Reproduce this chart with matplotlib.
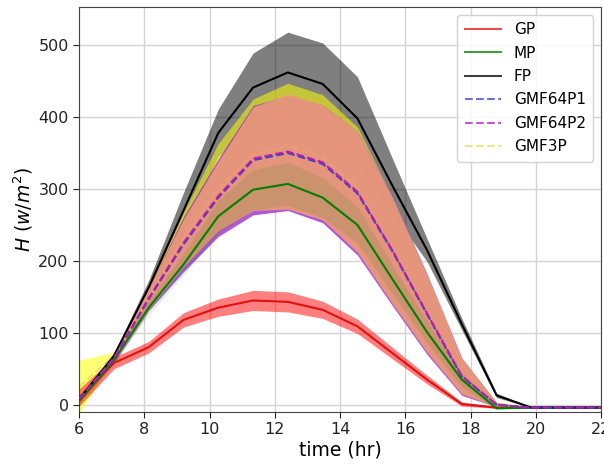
import numpy as np
import matplotlib
matplotlib.use("Agg")
import matplotlib.pyplot as plt

# time grid (hr)
t = np.linspace(6, 22, 16)

GP_mean = [10, 58, 80, 118, 135, 145, 143, 132, 109, 72, 35, 1, -4, -4, -4, -4]
GP_std = [12, 8, 8, 10, 12, 14, 14, 12, 10, 8, 6, 3, 1, 0, 0, 0]

MP_mean = [5, 62, 135, 195, 262, 299, 307, 288, 250, 175, 101, 35, -5, -4, -4, -4]
MP_std = [5, 5, 10, 15, 22, 28, 30, 28, 25, 20, 15, 10, 2, 0, 0, 0]

FP_mean = [8, 68, 163, 270, 378, 441, 462, 446, 398, 305, 215, 112, 13, -4, -4, -4]
FP_std = [2, 3, 10, 25, 33, 48, 56, 57, 58, 38, 16, 8, 3, 0, 0, 0]

GMF64P1_mean = [8, 64, 147, 223, 288, 340, 350, 335, 294, 214, 126, 39, 0, -4, -4, -4]
GMF64P1_std = [4, 6, 16, 38, 54, 76, 80, 82, 86, 76, 56, 26, 3, 0, 0, 0]

GMF64P2_mean = [8, 65, 148, 225, 290, 342, 352, 337, 296, 215, 127, 40, 0, -4, -4, -4]
GMF64P2_std = [3, 5, 15, 33, 48, 72, 80, 80, 84, 74, 54, 25, 3, 0, 0, 0]

GMF3P_mean = [25, 68, 150, 232, 300, 348, 360, 345, 302, 217, 128, 40, 1, -4, -4, -4]
GMF3P_std = [37, 5, 12, 36, 63, 77, 87, 86, 84, 72, 52, 24, 3, 0, 0, 0]

def arr(a):
    return np.asarray(a, dtype=float)

fig = plt.figure(figsize=(6.04, 4.66), dpi=100)
ax = fig.add_axes([0.131, 0.116, 0.864, 0.869])

m, s = arr(FP_mean), arr(FP_std)
ax.fill_between(t, m - s, m + s, color="black", alpha=0.5, lw=0, zorder=1.1)
m, s = arr(GMF3P_mean), arr(GMF3P_std)
ax.fill_between(t, m - s, m + s, color="yellow", alpha=0.55, lw=0, zorder=1.2)
m, s = arr(GMF64P1_mean), arr(GMF64P1_std)
ax.fill_between(t, m - s, m + s, color="#9a30d0", alpha=0.8, lw=0, zorder=1.3)
m, s = arr(GMF64P2_mean), arr(GMF64P2_std)
ax.fill_between(t, m - s, m + s, color="#eb9a78", alpha=0.93, lw=0, zorder=1.5)
m, s = arr(MP_mean), arr(MP_std)
ax.fill_between(t, m - s, m + s, color="green", alpha=0.12, lw=0, zorder=1.6)
m, s = arr(GP_mean), arr(GP_std)
ax.fill_between(t, m - s, m + s, color="red", alpha=0.5, lw=0, zorder=1.7)

ax.plot(t, GP_mean, color="#dd1111", lw=1.5, label="GP", zorder=3)
ax.plot(t, MP_mean, color="green", lw=1.5, label="MP", zorder=3)
ax.plot(t, FP_mean, color="black", lw=1.5, label="FP", zorder=3)
ax.plot(t, GMF64P1_mean, color="#4040c0", lw=1.5, ls="--", label="GMF64P1", zorder=3)
ax.plot(t, GMF64P2_mean, color="#b020b0", lw=1.5, ls="--", label="GMF64P2", zorder=3)
ax.plot(t, GMF3P_mean, color="#e0e060", lw=1.5, ls="--", alpha=0.8,
        label="GMF3P", zorder=1.4)

ax.set_xlim(6, 22)
ax.set_ylim(-10, 553)
ax.set_xticks([6, 8, 10, 12, 14, 16, 18, 20, 22])
ax.set_yticks([0, 100, 200, 300, 400, 500])
ax.grid(True, color="#d3d3d3", lw=1)
ax.set_axisbelow(True)
for sp in ax.spines.values():
    sp.set_color("#444444")
ax.tick_params(labelsize=11.5, colors="#222222", length=4)
ax.set_xlabel("time (hr)", fontsize=13.5, labelpad=2)
ax.set_ylabel(r"$H\ (w/m^2)$", fontsize=13.5, labelpad=2)

leg = ax.legend(loc="upper right", fontsize=11, framealpha=0.85,
                edgecolor="#cccccc", handlelength=2.4, borderpad=0.5,
                labelspacing=0.55)
for h in leg.get_lines():
    h.set_alpha(0.75)

fig.savefig("out.png", dpi=100)
